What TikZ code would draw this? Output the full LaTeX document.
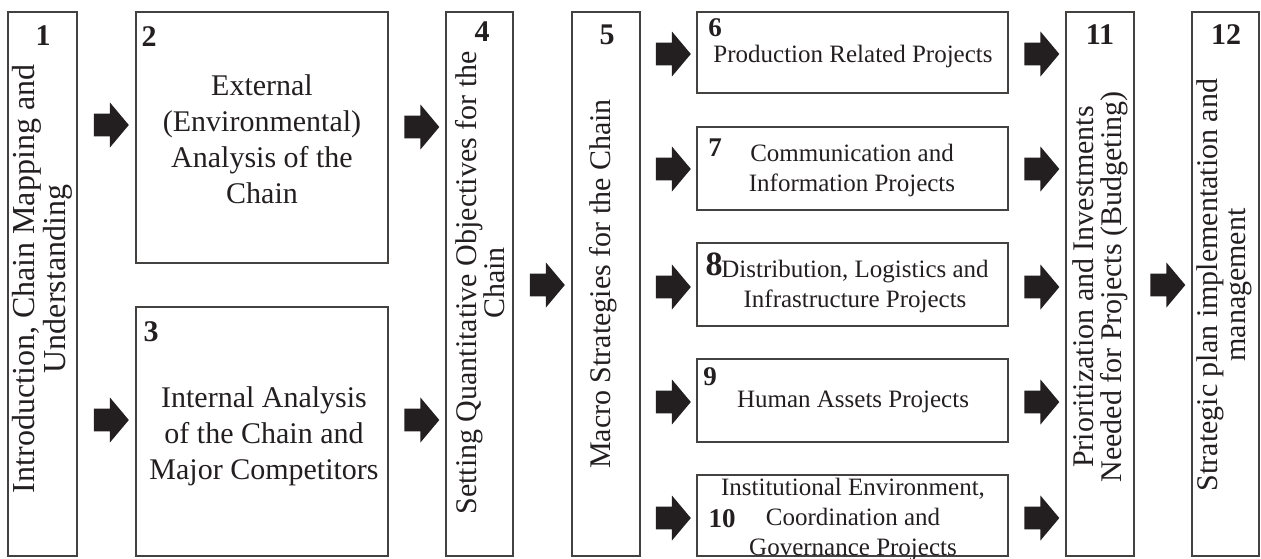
\documentclass[tikz,border=0pt]{standalone}
\usepackage{fontspec}
\setmainfont{Liberation Serif}
\usetikzlibrary{shapes.arrows,fit,calc}
\definecolor{ink}{HTML}{231F20}
\tikzset{
  box/.style={draw=ink!85, line width=0.9pt, inner sep=0pt},
  blk/.style={single arrow, fill=ink, draw=none, inner xsep=0pt, inner ysep=5.5pt,
    minimum width=22.5pt, minimum height=17.5pt,
    single arrow head extend=5.5pt, single arrow tip angle=100},
  num/.style={font=\fontsize{15}{15}\selectfont\bfseries, text=ink, inner sep=0pt},
  snum/.style={font=\fontsize{13.5}{14}\selectfont\bfseries, text=ink, inner sep=0pt},
  big/.style={font=\fontsize{15}{18}\selectfont, text=ink, align=center, inner sep=0pt},
  vert/.style={font=\fontsize{15}{14}\selectfont, text=ink, align=center, rotate=90, inner sep=0pt},
  small/.style={font=\fontsize{12.5}{15}\selectfont, text=ink, align=center, inner sep=0pt},
}
\begin{document}
\begin{tikzpicture}[x=0.5pt, y=-0.5pt]
		\useasboundingbox (0,0) rectangle (1261,558);
		% the twelve boxes
		\foreach \n/\a/\b/\c/\d in {1/8/12/77/556, 2/136/12/388/263, 3/136/307/388/556,
			4/446/12/513/556, 5/572/12/640/556, 6/697/12/1008/93, 7/697/127/1008/210,
			8/697/243/1008/326, 9/697/359/1008/442, 10/697/475/1008/556,
			11/1066/12/1134/556, 12/1192/12/1259/556}
			\node[box, fit={(\a,\b) (\c,\d)}] (b\n) {};
		% block arrows between the boxes
		\foreach \s/\t/\y in {1/2/125, 1/3/420, 2/4/127, 3/4/420, 4/5/285,
			5/6/54, 5/7/169, 5/8/287, 5/9/402, 5/10/518,
			6/11/54, 7/11/169, 8/11/287, 9/11/402, 10/11/518, 11/12/285}{
			\path ($(b\s.east)!.5!(b\t.west)$) coordinate (m);
			\node[blk] (a\s-\t) at (m |- 0,\y) {};}
		% numbers
		\foreach \n/\x/\y in {1/43/36, 2/149/37, 3/151/332, 4/482/32, 5/607/35, 11/1100/35, 12/1226/35}
			\node[num] (n\n) at (\x,\y) {\n};
		\foreach \n/\x/\y in {6/715/28, 7/715/148, 9/710/377, 10/722/519}
			\node[snum] (n\n) at (\x,\y) {\n};
		\node[snum, font=\fontsize{17}{17}\selectfont\bfseries] (n8) at (714,264) {8};
		% texts
		\node[vert, font=\fontsize{16}{14}\selectfont] (t1) at (42,279) {Introduction, Chain Mapping and\\Understanding};
		\node[big] (t2) at (262,139) {External\\(Environmental)\\Analysis of the\\Chain};
		\node[big] (t3) at (264,436) {Internal Analysis\\of the Chain and\\Major Competitors};
		\node[vert] (t4) at (480,283) {Setting Quantitative Objectives for the\\Chain};
		\node[vert] (t5) at (603,284) {Macro Strategies for the Chain};
		\node[small] (t6) at (853,56) {Production Related Projects};
		\node[small] (t7) at (852,170) {Communication and\\Information Projects};
		\node[small] (t8) at (855,286) {Distribution, Logistics and\\Infrastructure Projects};
		\node[small] (t9) at (853,402) {Human Assets Projects};
		\node[small] (t10) at (853,519) {Institutional Environment,\\Coordination and\\Governance Projects};
		\node[vert] (t11) at (1100,287) {Prioritization and Investments\\Needed for Projects (Budgeting)};
		\node[vert] (t12) at (1224,285) {Strategic plan implementation and\\management};
\end{tikzpicture}
\end{document}
